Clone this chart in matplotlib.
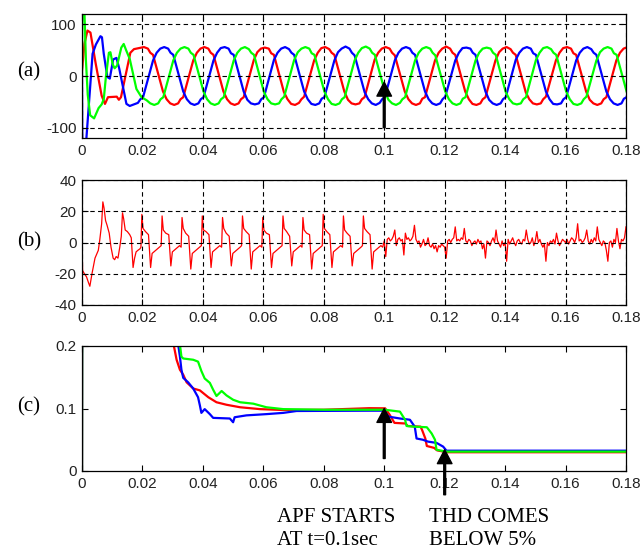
import numpy as np
import matplotlib
matplotlib.use("Agg")
import matplotlib.pyplot as plt

# ---------------- data ----------------
# x axis
x_ticks = [0, 0.02, 0.04, 0.06, 0.08, 0.10, 0.12, 0.14, 0.16, 0.18]
x_tick_labels = ['0', '0.02', '0.04', '0.06', '0.08', '0.1', '0.12', '0.14', '0.16', '0.18']

# (a) three phase source currents: vertices (time in ms, value in A)
red_a_t = [0, 0.8, 1.8, 2.8, 4.5, 6.5, 7.6, 8.6, 11.5, 12.2, 12.9, 16.0, 17.2,
           20.5, 21.8, 22.6, 23.5, 26.8, 28.0, 29.2, 30.5, 31.8, 32.6, 33.5,
           36.8, 38.0, 39.2, 40.5, 41.8, 42.6, 43.5, 46.8, 48.0, 49.2, 50.5, 51.8, 52.6, 53.5,
           56.8, 58.0, 59.2, 60.5, 61.8, 62.6, 63.5, 66.8, 68.0, 69.2, 70.5, 71.8, 72.6, 73.5,
           76.8, 78.0, 79.2, 80.5, 81.8, 82.6, 83.5, 86.8, 88.0, 89.2, 90.5, 91.8, 92.6, 93.5,
           96.8, 98.0, 99.2, 100.5, 101.8, 102.6, 103.5, 106.8, 108.0, 109.2, 110.5, 111.8, 112.6, 113.5,
           116.8, 118.0, 119.2, 120.5, 121.8, 122.6, 123.5, 126.8, 128.0, 129.2, 130.5, 131.8, 132.6, 133.5,
           136.8, 138.0, 139.2, 140.5, 141.8, 142.6, 143.5, 146.8, 148.0, 149.2, 150.5, 151.8, 152.6, 153.5,
           156.8, 158.0, 159.2, 160.5, 161.8, 162.6, 163.5, 166.8, 168.0, 169.2, 170.5, 171.8, 172.6, 173.5,
           176.8, 178.0, 179.2, 180.5]
red_a_v = [10, 62, 88, 84, 25, -38, -54, -41, -40, -46, -41, 45, 52,
           56, 53, 45, 41, -30, -45, -53, -56, -53, -45, -41,
           30, 45, 53, 56, 53, 45, 41, -30, -45, -53, -56, -53, -45, -41,
           30, 46, 53, 55, 53, 44, 41, -31, -45, -54, -56, -52, -45, -40,
           30, 45, 54, 56, 52, 45, 41, -30, -46, -53, -55, -53, -45, -41,
           31, 45, 53, 56, 53, 45, 40, -30, -45, -53, -56, -53, -44, -41,
           30, 45, 53, 57, 53, 45, 41, -30, -45, -54, -56, -53, -45, -41,
           30, 46, 53, 56, 52, 45, 41, -31, -45, -53, -55, -53, -45, -40,
           30, 45, 54, 56, 53, 44, 41, -30, -46, -53, -56, -53, -45, -41,
           30, 45, 53, 56]

blue_a_t = [0, 0.1, 1.4, 2.5, 3.5, 4.6, 6.1, 6.6, 7.2, 8.4, 9.2, 10.3, 11.4, 12.3, 14.7, 15.8, 17.2,
            18.5, 19.3, 20.2,
            23.5, 24.7, 25.9, 27.2, 28.5, 29.3, 30.2, 33.5, 34.7, 35.9, 37.2, 38.5, 39.3, 40.2,
            43.5, 44.7, 45.9, 47.2, 48.5, 49.3, 50.2, 53.5, 54.7, 55.9, 57.2, 58.5, 59.3, 60.2,
            63.5, 64.7, 65.9, 67.2, 68.5, 69.3, 70.2, 73.5, 74.7, 75.9, 77.2, 78.5, 79.3, 80.2,
            83.5, 84.7, 85.9, 87.2, 88.5, 89.3, 90.2, 93.5, 94.7, 95.9, 97.2, 98.5, 99.3, 100.2,
            103.5, 104.7, 105.9, 107.2, 108.5, 109.3, 110.2, 113.5, 114.7, 115.9, 117.2, 118.5, 119.3, 120.2,
            123.5, 124.7, 125.9, 127.2, 128.5, 129.3, 130.2, 133.5, 134.7, 135.9, 137.2, 138.5, 139.3, 140.2,
            143.5, 144.7, 145.9, 147.2, 148.5, 149.3, 150.2, 153.5, 154.7, 155.9, 157.2, 158.5, 159.3, 160.2,
            163.5, 164.7, 165.9, 167.2, 168.5, 169.3, 170.2, 173.5, 174.7, 175.9, 177.2, 178.5, 179.3, 180.2,
            183.5]
blue_a_v = [0, -140, -125, -36, 43, 61, 77, 75, 43, -2, -5, 32, 35, 15, -54, -58, -55,
            -52, -45, -41,
            30, 45, 53, 56, 53, 45, 41, -30, -45, -53, -56, -53, -45, -41,
            30, 45, 54, 56, 53, 44, 41, -30, -46, -53, -55, -53, -45, -41,
            31, 45, 53, 56, 52, 45, 41, -30, -45, -54, -56, -53, -44, -41,
            30, 46, 53, 57, 53, 45, 40, -31, -45, -53, -56, -52, -45, -41,
            30, 45, 53, 56, 53, 45, 41, -30, -45, -53, -56, -53, -45, -40,
            30, 45, 54, 55, 53, 45, 41, -30, -46, -53, -56, -53, -45, -41,
            31, 45, 53, 56, 53, 44, 41, -30, -45, -54, -55, -53, -45, -41,
            30, 45, 53, 56, 52, 45, 41, -30, -45, -53, -56, -53, -44, -41,
            30]

green_a_t = [0, 0.1, 0.8, 1.3, 1.9, 2.7, 4.0, 5.5, 6.5, 7.2, 7.9, 8.9, 9.4, 10.2, 10.8, 11.6, 13.0, 13.8,
             14.6, 15.8, 18.0, 19.7, 21.4, 22.6, 23.9, 25.2, 26.0, 26.9,
             30.2, 31.4, 32.6, 33.9, 35.2, 36.0, 36.9, 40.2, 41.4, 42.6, 43.9, 45.2, 46.0, 46.9,
             50.2, 51.4, 52.6, 53.9, 55.2, 56.0, 56.9, 60.2, 61.4, 62.6, 63.9, 65.2, 66.0, 66.9,
             70.2, 71.4, 72.6, 73.9, 75.2, 76.0, 76.9, 80.2, 81.4, 82.6, 83.9, 85.2, 86.0, 86.9,
             90.2, 91.4, 92.6, 93.9, 95.2, 96.0, 96.9, 100.2, 101.4, 102.6, 103.9, 105.2, 106.0, 106.9,
             110.2, 111.4, 112.6, 113.9, 115.2, 116.0, 116.9, 120.2, 121.4, 122.6, 123.9, 125.2, 126.0, 126.9,
             130.2, 131.4, 132.6, 133.9, 135.2, 136.0, 136.9, 140.2, 141.4, 142.6, 143.9, 145.2, 146.0, 146.9,
             150.2, 151.4, 152.6, 153.9, 155.2, 156.0, 156.9, 160.2, 161.4, 162.6, 163.9, 165.2, 166.0, 166.9,
             170.2, 171.4, 172.6, 173.9, 175.2, 176.0, 176.9, 180.2]
green_a_v = [5, 140, 125, 30, -36, -76, -82, -62, -55, -45, -2, 45, 46, 22, 15, 20, 55, 62,
             50, 33, -25, -41, -47, -53, -56, -53, -45, -41,
             30, 45, 53, 56, 53, 45, 41, -30, -45, -53, -56, -53, -45, -41,
             30, 45, 53, 56, 52, 45, 41, -31, -45, -53, -55, -53, -45, -40,
             31, 46, 53, 56, 53, 44, 41, -30, -45, -54, -56, -53, -45, -41,
             30, 45, 54, 57, 53, 45, 41, -30, -46, -53, -56, -52, -45, -41,
             30, 45, 53, 56, 53, 45, 40, -30, -45, -53, -56, -53, -44, -41,
             30, 45, 53, 55, 53, 45, 41, -31, -45, -53, -55, -53, -45, -41,
             31, 45, 54, 56, 52, 45, 41, -30, -45, -54, -56, -53, -45, -40,
             30, 46, 53, 56, 53, 44, 41, -30]

# (b) harmonic current before APF: vertices (ms, A)
b_before_t = [0, 0.2, 0.8, 1.5, 2.2, 2.6, 3.3, 4.3, 5.4, 5.9, 6.5, 6.9, 7.3, 7.8, 8.3, 9.0, 9.6, 10.3,
              10.8, 11.3, 11.9, 12.5, 13.0, 13.4, 13.8, 14.3, 15.0, 15.8, 16.3, 16.9, 17.4, 17.9, 18.5, 19.2,
              19.5, 19.8, 20.2, 21.0, 22.0, 22.7, 23.2, 24.4, 25.6,
              26.2, 26.5, 26.9, 27.7, 28.7, 29.4, 29.9, 31.1, 32.3,
              32.8, 33.1, 33.5, 34.3, 35.3, 36.0, 36.5, 37.7, 38.9,
              39.5, 39.8, 40.2, 41.0, 42.0, 42.7, 43.2, 44.4, 45.6,
              46.2, 46.5, 46.9, 47.7, 48.7, 49.4, 49.9, 51.1, 52.3,
              52.8, 53.1, 53.5, 54.3, 55.3, 56.0, 56.5, 57.7, 58.9,
              59.5, 59.8, 60.2, 61.0, 62.0, 62.7, 63.2, 64.4, 65.6,
              66.2, 66.5, 66.9, 67.7, 68.7, 69.4, 69.9, 71.1, 72.3,
              72.8, 73.1, 73.5, 74.3, 75.3, 76.0, 76.5, 77.7, 78.9,
              79.5, 79.8, 80.2, 81.0, 82.0, 82.7, 83.2, 84.4, 85.6,
              86.2, 86.5, 86.9, 87.7, 88.7, 89.4, 89.9, 91.1, 92.3,
              92.8, 93.1, 93.5, 94.3, 95.3, 96.0, 96.5, 97.7, 98.9, 99.5]
b_before_v = [0, -18, -20, -22, -26, -28, -20, -10, -5, 2, 12, 26, 22, 14, 11, 6, -3, -10,
              -11, -9, -10, -3, 4, 19, 15, 8, 7, 5, 3, -16, -10, -6, -5, -4,
              -3, 18, 9, 7, 5, -16, -7, -5, -3,
              -2, 17, 8, 6, 5, -15, -6, -4, -2,
              -3, 16, 9, 6, 4, -17, -7, -5, -3,
              -2, 17, 8, 7, 5, -16, -6, -4, -2,
              -3, 16, 9, 6, 4, -15, -7, -5, -3,
              -2, 17, 9, 7, 5, -17, -6, -4, -2,
              -3, 16, 8, 6, 5, -16, -7, -5, -3,
              -2, 17, 9, 7, 4, -15, -6, -4, -2,
              -3, 16, 8, 6, 5, -17, -7, -5, -3,
              -2, 18, 9, 7, 5, -16, -6, -4, -2,
              -3, 17, 8, 6, 4, -15, -7, -5, -3,
              -2, 17, 9, 7, 5, -17, -6, -4, -2, -3]
# (b) after APF starts: samples every 0.5 ms from 100 ms to 180 ms
b_after_start_ms = 100.0
b_after_step_ms = 0.5
b_after_v = [1, -9, 2, 3, 1, 2, 4, 8, -2, 2,
             3, 1, 2, -8, 6, 2, 3, 1, 2, 4,
             11, 2, 0, 1, -3, -1, 2, -2, -1, 3,
             -2, -3, -1, -4, -2, -6, -2, -3, -1, -2,
             -3, -10, 1, 2, 0, 2, 3, 10, 1, 2,
             1, 3, 2, 9, 1, 0, 2, 1, -2, 0,
             1, -1, 2, 0, 1, -4, -1, -10, 1, 0,
             -2, 1, 3, 0, 8, 1, -1, -3, 1, -2,
             0, -12, 2, -1, 1, 3, 0, -2, 1, 2,
             0, -1, 2, 1, 8, 2, -1, 0, 3, -2,
             1, 7, 0, 2, -1, -3, -1, -12, 0, -2,
             1, 0, 2, -1, 6, 1, -2, 0, 2, 1,
             0, 2, -1, 1, 3, 2, 0, 3, 12, 1,
             2, 0, 1, 3, 8, 1, -1, 2, 0, 3,
             1, 10, 2, 0, -2, 1, 0, -5, -12, 0,
             1, -3, 2, 0, 9, 1, -4, 2, 1, 3,
             10]

# (c) THD of the three phase currents (time s, THD fraction)
red_c_t = [0, 0.0001, 0.0300, 0.0313, 0.0324, 0.0335, 0.0346, 0.0368, 0.0390, 0.0418, 0.0445, 0.0478,
           0.0523, 0.0589, 0.0666, 0.0800, 0.0950, 0.1003, 0.1018, 0.1030, 0.1034, 0.1070, 0.1078,
           0.1120, 0.1125, 0.1136, 0.1141, 0.1165, 0.1175, 0.1207, 0.1260, 0.1800]
red_c_v = [0, 0.50, 0.21, 0.178, 0.162, 0.154, 0.142, 0.132, 0.129, 0.118, 0.110, 0.106,
           0.102, 0.099, 0.0976, 0.098, 0.1005, 0.1003, 0.090, 0.080, 0.077, 0.076, 0.072,
           0.071, 0.066, 0.052, 0.040, 0.037, 0.033, 0.0300, 0.0300, 0.0300]
blue_c_t = [0, 0.0001, 0.0316, 0.0324, 0.0329, 0.0335, 0.0351, 0.0368, 0.0384, 0.0390,
            0.0395, 0.0406, 0.0423, 0.0434, 0.0489, 0.0500, 0.0505, 0.0544, 0.0610, 0.0666,
            0.0710, 0.0950, 0.1000, 0.1014, 0.1052, 0.1085, 0.1101, 0.1107, 0.1128, 0.1145,
            0.1173, 0.1195, 0.1206, 0.1260, 0.1800]
blue_c_v = [0, 0.50, 0.21, 0.183, 0.162, 0.149, 0.142, 0.132, 0.118, 0.105,
            0.093, 0.099, 0.091, 0.085, 0.084, 0.078, 0.086, 0.089, 0.091, 0.093,
            0.096, 0.0965, 0.0965, 0.087, 0.084, 0.082, 0.071, 0.052, 0.050, 0.047,
            0.045, 0.039, 0.0325, 0.0325, 0.0325]
green_c_t = [0, 0.0001, 0.0322, 0.0329, 0.0335, 0.0368, 0.0384, 0.0395, 0.0406, 0.0423,
             0.0434, 0.0445, 0.0462, 0.0478, 0.0500, 0.0523, 0.0567, 0.0610, 0.0666, 0.0800,
             0.0950, 0.1002, 0.1052, 0.1069, 0.1074, 0.1096, 0.1141, 0.1157, 0.1168, 0.1173,
             0.1206, 0.1800]
green_c_v = [0, 0.50, 0.21, 0.183, 0.180, 0.178, 0.175, 0.160, 0.148, 0.141,
             0.130, 0.120, 0.128, 0.121, 0.114, 0.110, 0.1077, 0.102, 0.099, 0.098,
             0.098, 0.098, 0.095, 0.082, 0.072, 0.071, 0.070, 0.060, 0.050, 0.034,
             0.0310, 0.0310]

# annotation events
apf_start_t = 0.10
thd_below_t = 0.12

# ---------------- figure ----------------
W, H = 642, 550
fig = plt.figure(figsize=(W / 100, H / 100), dpi=100)
fig.patch.set_facecolor('white')

RED, GREEN, BLUE = '#ff0000', '#00ff00', '#0000ff'
TICK_FONT = 'Liberation Sans'
SERIF = 'Liberation Serif'


def px_axes(l, t, r, b):
    return fig.add_axes([l / W, 1 - b / H, (r - l) / W, (b - t) / H])


def style(ax, yticks, ylabels, ylim, grid):
    ax.set_xlim(0, 0.18)
    ax.set_ylim(*ylim)
    ax.set_xticks(x_ticks)
    ax.set_xticklabels(x_tick_labels)
    ax.set_yticks(yticks)
    ax.set_yticklabels(ylabels)
    ax.tick_params(direction='in', top=True, right=True, length=4, width=0.8,
                   labelsize=11, pad=4, colors='black')
    for lab in ax.get_xticklabels() + ax.get_yticklabels():
        lab.set_family(TICK_FONT)
        lab.set_color('#222222')
    for s in ax.spines.values():
        s.set_linewidth(0.9)
        s.set_color('black')
    if grid:
        ax.grid(True, color='black', linestyle=(0, (4, 3)), linewidth=0.8)
        ax.set_axisbelow(False)


arrow_kw = dict(facecolor='black', edgecolor='black', width=1.3, headwidth=10.5,
                headlength=10, shrink=0)

# (a)
ax_a = px_axes(82, 14, 626, 138)
ax_a.plot(np.array(red_a_t) / 1000, red_a_v, color=RED, lw=1.6, zorder=2)
ax_a.plot(np.array(blue_a_t) / 1000, blue_a_v, color=BLUE, lw=1.6, zorder=2)
ax_a.plot(np.array(green_a_t) / 1000, green_a_v, color=GREEN, lw=1.6, zorder=2)
style(ax_a, [-100, 0, 100], ['-100', '0', '100'], (-120, 120), True)
ax_a.annotate('', xy=(apf_start_t, -12), xytext=(apf_start_t, -100),
              arrowprops=arrow_kw, zorder=5)

# (b)
ax_b = px_axes(82, 180, 626, 305)
b_after_t = b_after_start_ms + b_after_step_ms * np.arange(len(b_after_v))
b_t = np.concatenate([b_before_t, b_after_t]) / 1000
b_v = np.concatenate([b_before_v, b_after_v])
ax_b.plot(b_t, b_v, color=RED, lw=0.9, zorder=2)
style(ax_b, [-40, -20, 0, 20, 40], ['-40', '-20', '0', '20', '40'], (-40, 40), True)

# (c)
ax_c = px_axes(82, 346, 626, 471)
ax_c.plot(red_c_t, red_c_v, color=RED, lw=1.6, zorder=2)
ax_c.plot(blue_c_t, blue_c_v, color=BLUE, lw=1.6, zorder=2)
ax_c.plot(green_c_t, green_c_v, color=GREEN, lw=1.6, zorder=2)
style(ax_c, [0, 0.1, 0.2], ['0', '0.1', '0.2'], (0, 0.2), False)
ax_c.annotate('', xy=(apf_start_t, 0.1), xytext=(apf_start_t, 0.02),
              arrowprops=arrow_kw, zorder=5)
ax_c.annotate('', xy=(thd_below_t, 0.034), xytext=(thd_below_t, -0.19),
              xycoords='data', textcoords=('data', 'axes fraction'),
              arrowprops=arrow_kw, annotation_clip=False, zorder=5)

# panel labels
for lab, ypx in [('(a)', 72), ('(b)', 242), ('(c)', 407)]:
    fig.text(29 / W, 1 - ypx / H, lab, family=SERIF, fontsize=15,
             ha='center', va='center')

# bottom annotations
fig.text(277 / W, 1 - 522 / H, 'APF STARTS', family=SERIF, fontsize=15, ha='left', va='baseline')
fig.text(277 / W, 1 - 545 / H, 'AT t=0.1sec', family=SERIF, fontsize=15, ha='left', va='baseline')
fig.text(429 / W, 1 - 522 / H, 'THD COMES', family=SERIF, fontsize=15, ha='left', va='baseline')
fig.text(429 / W, 1 - 545 / H, 'BELOW 5%', family=SERIF, fontsize=15, ha='left', va='baseline')

fig.savefig('out.png', dpi=100, facecolor='white')
